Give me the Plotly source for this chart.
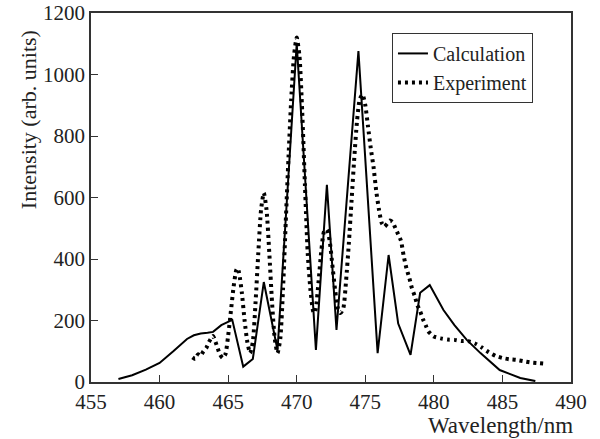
import plotly.graph_objects as go

# Calculation (solid line)
calc_wl = [457.0, 458.0, 459.0, 460.0, 461.0, 462.0, 462.5, 463.0, 463.5, 463.9, 464.5,
           465.3, 466.1, 466.8, 467.6, 468.6, 470.0, 471.4, 472.2, 472.9, 474.5,
           475.9, 476.7, 477.4, 478.3, 479.0, 479.7, 480.7, 481.5, 482.4, 483.4,
           484.8, 486.3, 487.4]
calc_val = [10, 22, 40, 62, 100, 140, 152, 158, 160, 163, 185,
            202, 50, 75, 325, 104, 1100, 104, 641, 169, 1076,
            94, 413, 190, 88, 290, 315, 234, 185, 137, 94,
            39, 13, 3]

# Experiment (dotted)
exp_wl = [462.4, 462.6, 462.8, 463.0, 463.2, 463.4, 463.6, 463.8, 463.9, 464.0,
          464.2, 464.4, 464.6, 464.8, 465.0, 465.2, 465.4, 465.6, 465.7, 465.8,
          466.0, 466.2, 466.4, 466.6, 466.8, 467.0, 467.2, 467.4, 467.6, 467.8,
          468.0, 468.2, 468.4, 468.6, 468.8, 469.0, 469.2, 469.4, 469.6, 469.8,
          470.0, 470.2, 470.4, 470.6, 470.8, 471.0, 471.2, 471.3, 471.4, 471.6,
          471.8, 472.0, 472.2, 472.4, 472.6, 472.8, 473.0, 473.2, 473.4, 473.6,
          473.8, 474.0, 474.2, 474.4, 474.6, 474.8, 475.0, 475.2, 475.4, 475.6,
          475.8, 476.0, 476.2, 476.4, 476.6, 476.8, 477.0, 477.2, 477.4, 477.6,
          477.8, 478.0, 478.2, 478.4, 478.6, 478.8, 479.0, 479.2, 479.4, 479.6,
          479.8, 480.0, 480.5, 481.0, 481.5, 482.0, 482.5, 483.0, 483.5, 484.0,
          484.5, 485.0, 485.5, 486.0, 486.5, 487.0, 487.5, 488.0]
exp_val = [80, 75, 90, 85, 100, 110, 130, 145, 150, 140,
           115, 90, 78, 90, 150, 230, 310, 365, 370, 355,
           290, 200, 130, 94, 130, 260, 420, 560, 615, 560,
           420, 260, 140, 94, 140, 300, 520, 730, 920, 1060,
           1120, 1060, 880, 640, 420, 300, 230, 224, 240, 330,
           430, 490, 495, 460, 380, 300, 240, 224, 240, 330,
           450, 590, 730, 850, 920, 935, 900, 830, 760, 700,
           620, 560, 517, 505, 515, 525, 520, 500, 480, 460,
           410, 370, 340, 305, 280, 250, 230, 205, 185, 165,
           155, 148, 142, 138, 137, 133, 133, 125, 112, 97,
           85, 78, 74, 72, 68, 64, 62, 60]

x_ticks = [455, 460, 465, 470, 475, 480, 485, 490]
y_ticks = [0, 200, 400, 600, 800, 1000, 1200]

FONT = "Liberation Serif, Times New Roman, Times, serif"
FS = 21

fig = go.Figure()
fig.add_trace(go.Scatter(x=calc_wl, y=calc_val, mode="lines", name="Calculation",
                         line=dict(color="black", width=2)))
fig.add_trace(go.Scatter(x=exp_wl, y=exp_val, mode="lines", name="Experiment",
                         line=dict(color="black", width=4, dash="3px,4px",
                                   shape="spline", smoothing=0.6)))

axis_common = dict(showline=True, linecolor="#333", linewidth=1.5, mirror=True,
                   ticks="inside", ticklen=7, tickwidth=1.2, tickcolor="#333",
                   showgrid=False, zeroline=False, automargin=False,
                   ticklabeloverflow="allow",
                   tickfont=dict(family=FONT, size=FS, color="#222"))

fig.update_layout(
    width=600, height=439,
    margin=dict(l=91, r=29, t=13, b=57),
    paper_bgcolor="white", plot_bgcolor="white",
    font=dict(family=FONT, size=FS, color="#222"),
    xaxis=dict(range=[455, 490], tickvals=x_ticks, ticktext=[str(v) for v in x_ticks],
               **axis_common),
    yaxis=dict(range=[0, 1200], tickvals=y_ticks, ticktext=[str(v) for v in y_ticks],
               **axis_common),
    legend=dict(x=0.627, y=0.946, xanchor="left", yanchor="top",
                bordercolor="#333", borderwidth=1, bgcolor="white",
                font=dict(family=FONT, size=20, color="#222"),
                itemwidth=30, tracegroupgap=0),
    showlegend=True,
    annotations=[
        dict(text="Wavelength/nm", x=1.008, y=-0.117, xref="paper", yref="paper",
             xanchor="right", yanchor="middle", showarrow=False,
             font=dict(family=FONT, size=23, color="#222")),
        dict(text="Intensity (arb. units)", x=-0.131, y=0.710, xref="paper", yref="paper",
             xanchor="center", yanchor="middle", textangle=-90, showarrow=False,
             font=dict(family=FONT, size=22, color="#222")),
    ],
)

fig.write_html("out.html", config={"displayModeBar": False},
               post_script="document.body.style.margin='0';")
